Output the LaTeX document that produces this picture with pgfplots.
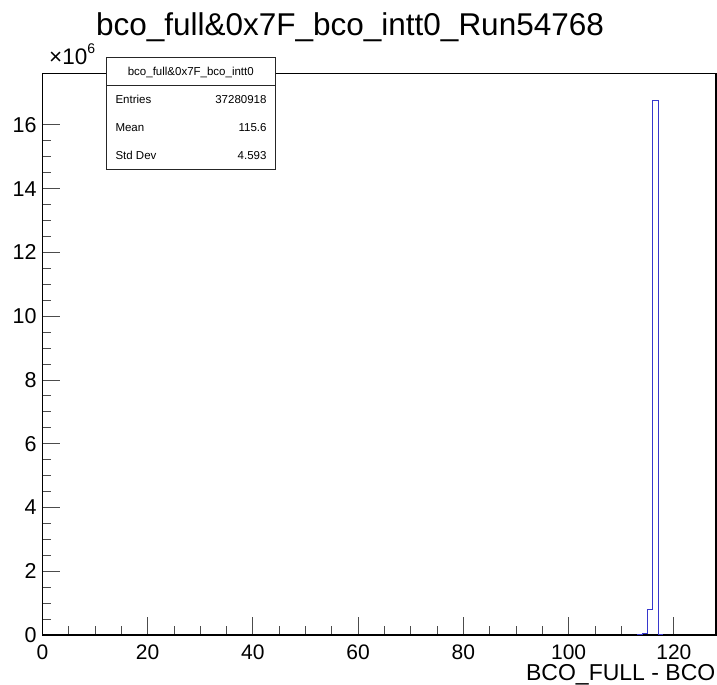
\documentclass[border=0pt]{standalone}
\usepackage{pgfplots}
\pgfplotsset{compat=1.18}
\usepackage{fontspec}
\setmainfont{Liberation Sans}
\definecolor{histblue}{RGB}{55,55,205}
\begin{document}
\begin{tikzpicture}[x=1bp,y=1bp]
\useasboundingbox (0,0) rectangle (717,685);
\begin{axis}[
  at={(42.4bp,50bp)}, anchor=south west,
  scale only axis, width=673.6bp, height=561.7bp,
  xmin=0, xmax=128, ymin=0, ymax=17.62,
  axis line style={black, line width=1.1bp},
  xtick={0,20,...,120}, minor x tick num=3,
  ytick={0,2,...,16}, minor y tick num=3,
  xtick pos=left, ytick pos=left,
  tick align=inside,
  major tick length=18bp, minor tick length=9bp,
  tick style={black!70, line width=0.9bp},
  /pgf/number format/assume math mode=true,
  xticklabel style={font=\fontsize{21bp}{24bp}\selectfont, inner sep=0pt, yshift=-10bp},
  yticklabel style={font=\fontsize{21.5bp}{24bp}\selectfont, inner sep=0pt, xshift=-5.7bp},
  scaled y ticks=false,
  clip=false,
]
\addplot[const plot, histblue, line width=1bp] coordinates {
  (113,0) (114,0.04) (115,0.806) (116,16.76) (117,0) (118,0)
};
\end{axis}
% title
\node[anchor=base, inner sep=0pt, font=\fontsize{31.5bp}{36bp}\selectfont] at (350,649) {bco\_full\&0x7F\_bco\_intt0\_Run54768};
% x label
\node[anchor=base east, inner sep=0pt, font=\fontsize{23bp}{26bp}\selectfont] at (715.5,4) {BCO\_FULL - BCO};
% multiplier
\node[anchor=base west, inner sep=0pt, font=\fontsize{22.5bp}{24bp}\selectfont] at (49,620) {×10\raisebox{11bp}{\fontsize{14bp}{16bp}\selectfont 6}};
% stats box
\draw[draw=black!85, fill=white, line width=0.9bp] (106.7,515.7) rectangle (275,627.7);
\draw[draw=black!85, line width=0.9bp] (106.7,599.3) -- (275,599.3);
\node[anchor=base, inner sep=0pt, font=\fontsize{11.5bp}{13bp}\selectfont] at (190.8,609.5) {bco\_full\&0x7F\_bco\_intt0};
\begin{scope}[every node/.style={inner sep=0pt, font=\fontsize{11.5bp}{13bp}\selectfont}]
\node[anchor=base west] at (115.3,581.7) {Entries};
\node[anchor=base east] at (266.7,581.7) {37280918};
\node[anchor=base west] at (115.3,553.3) {Mean};
\node[anchor=base east] at (266.7,553.3) {115.6};
\node[anchor=base west] at (115.3,525.7) {Std Dev};
\node[anchor=base east] at (266.7,525.7) {4.593};
\end{scope}
\end{tikzpicture}
\end{document}
